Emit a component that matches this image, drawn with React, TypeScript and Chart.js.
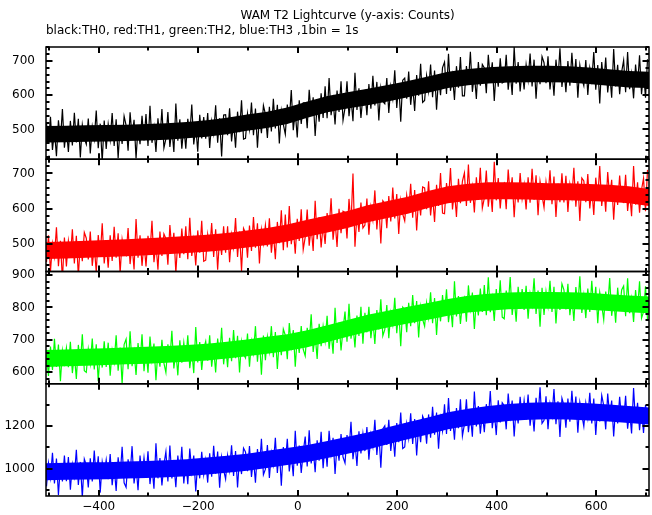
import React, { useEffect, useRef } from "react";
import { Chart, registerables } from "chart.js";

Chart.register(...registerables);

// lightcurve samples, 4 s apart (seconds relative to T0)
const BIN_START = -505;
const BIN_STEP = 4;
// dense core of each noise band, 40.4 s apart
const BAND_START = -506;
const BAND_STEP = 40.4;

const TH0_COUNTS = [
  518, 458, 537, 440, 497, 422, 527, 467, 560, 447,
  504, 434, 525, 453, 549, 462, 531, 418, 513, 474,
  457, 532, 430, 508, 472, 555, 445, 517, 405, 526,
  443, 515, 470, 548, 452, 530, 416, 510, 458, 539,
  512, 438, 550, 478, 528, 415, 508, 457, 540, 468,
  545, 452, 569, 461, 506, 434, 533, 470, 560, 446,
  473, 551, 449, 503, 434, 576, 467, 530, 444, 509,
  444, 531, 483, 573, 456, 510, 435, 543, 474, 536,
  473, 548, 446, 524, 488, 571, 461, 533, 421, 542,
  543, 483, 562, 465, 522, 447, 552, 492, 585, 472,
  474, 546, 501, 579, 483, 561, 447, 541, 489, 570,
  545, 475, 566, 494, 590, 503, 572, 459, 554, 515,
  486, 573, 525, 615, 498, 552, 477, 585, 516, 578,
  578, 504, 616, 544, 594, 481, 574, 523, 606, 534,
  626, 533, 650, 542, 587, 515, 614, 551, 641, 527,
  563, 641, 539, 593, 524, 666, 557, 620, 534, 599,
  612, 542, 633, 561, 657, 570, 639, 526, 621, 582,
  575, 650, 548, 626, 590, 673, 563, 635, 523, 644,
  650, 590, 669, 572, 629, 554, 659, 599, 692, 579,
  585, 657, 612, 690, 594, 672, 558, 652, 600, 681,
  697, 604, 721, 613, 658, 586, 685, 622, 712, 598,
  598, 685, 637, 727, 610, 664, 589, 697, 628, 690,
  680, 606, 718, 646, 696, 583, 676, 625, 708, 636,
  640, 718, 616, 670, 601, 741, 634, 697, 611, 676,
  617, 689, 644, 722, 626, 704, 590, 684, 632, 713,
  695, 635, 714, 617, 674, 599, 704, 644, 737, 624,
  679, 609, 700, 628, 724, 637, 706, 593, 688, 649,
  628, 703, 601, 679, 643, 726, 616, 688, 576, 697,
  632, 710, 608, 662, 593, 735, 626, 689, 603, 668,
  702, 609, 726, 618, 663, 591, 690, 627, 717, 603,
  667, 593, 705,
];

const TH1_COUNTS = [
  450, 525, 423, 501, 465, 548, 438, 510, 398, 519,
  437, 509, 464, 542, 446, 524, 410, 504, 452, 533,
  517, 457, 536, 439, 496, 421, 526, 466, 559, 446,
  504, 434, 525, 453, 549, 462, 531, 418, 513, 474,
  468, 546, 444, 498, 429, 571, 462, 525, 439, 504,
  437, 524, 476, 566, 449, 503, 428, 536, 467, 529,
  516, 442, 554, 482, 532, 419, 512, 461, 544, 472,
  551, 458, 575, 467, 512, 440, 539, 476, 566, 452,
  455, 527, 482, 560, 464, 542, 428, 522, 470, 551,
  476, 551, 449, 527, 491, 574, 464, 536, 424, 545,
  532, 462, 553, 481, 577, 490, 559, 446, 541, 502,
  554, 494, 573, 476, 533, 458, 563, 503, 596, 483,
  584, 491, 608, 500, 545, 473, 572, 509, 599, 485,
  520, 598, 496, 550, 481, 623, 514, 577, 491, 556,
  501, 588, 540, 630, 513, 567, 492, 600, 531, 593,
  590, 516, 628, 556, 700, 493, 586, 535, 618, 546,
  554, 629, 527, 605, 569, 652, 542, 614, 502, 623,
  615, 545, 636, 564, 660, 573, 642, 529, 624, 585,
  566, 638, 593, 671, 575, 653, 539, 633, 581, 662,
  659, 599, 678, 581, 638, 563, 668, 608, 701, 588,
  586, 673, 625, 715, 598, 652, 577, 685, 616, 678,
  701, 608, 725, 617, 662, 590, 689, 626, 716, 602,
  630, 708, 606, 660, 591, 733, 624, 687, 601, 666,
  673, 599, 711, 639, 689, 576, 669, 618, 701, 629,
  668, 598, 689, 617, 713, 626, 695, 582, 677, 638,
  604, 676, 631, 709, 613, 691, 577, 671, 619, 700,
  618, 693, 591, 669, 633, 716, 606, 678, 566, 687,
  679, 619, 698, 601, 658, 583, 688, 628, 721, 608,
  666, 592, 704, 632, 682, 569, 662, 611, 694, 622,
  618, 696, 594, 648, 579, 721, 612, 675, 589, 654,
  686, 593, 710,
];

const TH2_COUNTS = [
  658, 588, 679, 607, 703, 616, 685, 572, 667, 628,
  675, 615, 694, 597, 654, 579, 684, 624, 717, 604,
  599, 671, 626, 704, 608, 686, 572, 666, 614, 695,
  616, 691, 589, 667, 631, 714, 604, 676, 564, 685,
  702, 609, 726, 618, 663, 591, 690, 627, 717, 603,
  672, 598, 710, 638, 688, 575, 668, 617, 700, 628,
  599, 686, 638, 728, 611, 665, 590, 698, 629, 691,
  636, 714, 612, 666, 597, 739, 630, 693, 607, 672,
  695, 635, 714, 617, 674, 599, 704, 644, 737, 624,
  685, 615, 706, 634, 730, 643, 712, 599, 694, 655,
  644, 719, 617, 695, 659, 742, 632, 704, 592, 713,
  637, 709, 664, 742, 646, 724, 610, 704, 652, 733,
  714, 640, 752, 680, 730, 617, 710, 659, 742, 670,
  650, 737, 689, 779, 662, 716, 641, 749, 680, 742,
  696, 774, 672, 726, 657, 799, 690, 753, 667, 732,
  787, 694, 811, 703, 748, 676, 775, 712, 802, 688,
  783, 723, 802, 705, 762, 687, 792, 732, 825, 712,
  732, 807, 705, 783, 747, 830, 720, 792, 680, 801,
  793, 723, 814, 742, 838, 751, 820, 707, 802, 763,
  742, 814, 769, 847, 751, 829, 715, 809, 757, 838,
  778, 856, 754, 808, 739, 881, 772, 835, 749, 814,
  830, 756, 868, 796, 846, 733, 826, 775, 858, 786,
  869, 776, 893, 785, 830, 758, 857, 794, 884, 770,
  765, 852, 804, 894, 777, 831, 756, 864, 795, 857,
  792, 867, 765, 843, 807, 890, 780, 852, 740, 861,
  777, 849, 804, 882, 786, 864, 750, 844, 792, 873,
  854, 794, 873, 776, 833, 758, 863, 803, 896, 783,
  837, 767, 858, 786, 882, 795, 864, 751, 846, 807,
  762, 849, 801, 891, 774, 828, 753, 861, 792, 854,
  866, 773, 890, 782, 827, 755, 854, 791, 881, 767,
  787, 865, 763,
];

const TH3_COUNTS = [
  917, 1026, 958, 1075, 931, 1048, 877, 1018, 940, 1062,
  942, 1055, 901, 1019, 964, 1089, 924, 1032, 864, 1046,
  1017, 912, 1049, 940, 1085, 954, 1058, 888, 1031, 972,
  1041, 951, 1069, 923, 1009, 896, 1054, 964, 1103, 934,
  913, 1044, 971, 1106, 931, 1012, 899, 1062, 958, 1051,
  964, 1082, 928, 1010, 906, 1119, 955, 1050, 921, 1019,
  1080, 940, 1109, 954, 1022, 913, 1062, 967, 1103, 931,
  1038, 927, 1095, 987, 1062, 893, 1032, 955, 1080, 972,
  1040, 935, 1072, 963, 1108, 977, 1081, 911, 1054, 995,
  952, 1061, 993, 1110, 966, 1083, 912, 1053, 975, 1097,
  1079, 989, 1107, 961, 1047, 934, 1092, 1002, 1141, 972,
  998, 1111, 957, 1075, 1020, 1145, 980, 1088, 920, 1102,
  1023, 1141, 987, 1069, 965, 1178, 1014, 1109, 980, 1078,
  1151, 1011, 1180, 1025, 1093, 984, 1133, 1038, 1174, 1002,
  1121, 1010, 1178, 1070, 1145, 976, 1115, 1038, 1163, 1055,
  1027, 1158, 1085, 1220, 1045, 1126, 1013, 1176, 1072, 1165,
  1083, 1196, 1042, 1160, 1105, 1230, 1065, 1173, 1005, 1187,
  1202, 1112, 1230, 1084, 1170, 1057, 1215, 1125, 1264, 1095,
  1102, 1211, 1143, 1260, 1116, 1233, 1062, 1203, 1125, 1247,
  1223, 1118, 1255, 1146, 1291, 1160, 1264, 1094, 1237, 1178,
  1303, 1163, 1332, 1177, 1245, 1136, 1285, 1190, 1326, 1154,
  1208, 1326, 1172, 1254, 1150, 1363, 1199, 1294, 1165, 1263,
  1172, 1303, 1230, 1365, 1190, 1271, 1158, 1321, 1217, 1310,
  1296, 1185, 1353, 1245, 1320, 1151, 1290, 1213, 1338, 1230,
  1320, 1230, 1348, 1202, 1288, 1175, 1333, 1243, 1382, 1213,
  1227, 1340, 1186, 1304, 1249, 1374, 1209, 1317, 1149, 1331,
  1298, 1193, 1330, 1221, 1366, 1235, 1339, 1169, 1312, 1253,
  1199, 1308, 1240, 1357, 1213, 1330, 1159, 1300, 1222, 1344,
  1296, 1185, 1353, 1245, 1320, 1151, 1290, 1213, 1338, 1230,
  1224, 1342, 1188, 1270, 1166, 1379, 1215, 1310, 1181, 1279,
  1168, 1299, 1226,
];

// lower / upper edge of the solid core of each band
const TH0_CORE_LO = [462, 463, 464, 465, 466, 468, 470, 474, 479, 486, 496, 504, 516, 534, 550, 561, 571, 582, 594, 607, 621, 629, 634, 637, 638, 638, 637, 633, 628, 623, 621];
const TH0_CORE_HI = [510, 511, 512, 513, 514, 516, 518, 522, 527, 534, 544, 552, 564, 582, 598, 609, 619, 630, 642, 655, 669, 677, 682, 685, 686, 686, 685, 681, 676, 671, 669];
const TH1_CORE_LO = [458, 460, 462, 464, 466, 469, 472, 475, 479, 484, 491, 498, 508, 521, 533, 546, 562, 574, 586, 602, 616, 623, 627, 627, 626, 624, 624, 622, 620, 616, 608];
const TH1_CORE_HI = [506, 508, 510, 512, 514, 517, 520, 523, 527, 532, 539, 546, 556, 569, 581, 594, 610, 622, 634, 650, 664, 671, 675, 675, 674, 672, 672, 670, 668, 664, 656];
const TH2_CORE_LO = [616, 618, 620, 622, 624, 626, 629, 632, 636, 642, 649, 657, 665, 677, 693, 709, 725, 738, 750, 762, 774, 784, 790, 794, 796, 796, 795, 793, 789, 785, 782];
const TH2_CORE_HI = [668, 670, 672, 674, 676, 678, 681, 684, 688, 694, 701, 709, 717, 729, 745, 761, 777, 790, 802, 814, 826, 836, 842, 846, 848, 848, 847, 845, 841, 837, 834];
const TH3_CORE_LO = [946, 948, 950, 951, 954, 956, 960, 965, 973, 981, 990, 1004, 1017, 1032, 1050, 1070, 1090, 1115, 1138, 1161, 1185, 1202, 1214, 1224, 1230, 1232, 1231, 1227, 1222, 1215, 1208];
const TH3_CORE_HI = [1026, 1028, 1030, 1031, 1034, 1036, 1040, 1045, 1053, 1061, 1070, 1084, 1097, 1112, 1130, 1150, 1170, 1195, 1218, 1241, 1265, 1282, 1294, 1304, 1310, 1312, 1311, 1307, 1302, 1295, 1288];

const X_TICKS = [-400, -200, 0, 200, 400, 600];
const Y0_TICKS = [500, 600, 700];
const Y1_TICKS = [500, 600, 700];
const Y2_TICKS = [600, 700, 800, 900];
const Y3_TICKS = [1000, 1200];

const SERIES_NAMES = ["TH0", "TH1", "TH2", "TH3"];
const SERIES_COLORS = ["#000000", "#ff0000", "#00ff00", "#0000ff"];

const TITLE = "WAM T2 Lightcurve (y-axis: Counts)";
const SUBTITLE = "black:TH0, red:TH1, green:TH2, blue:TH3 ,1bin = 1s";

const PANELS = [
  { id: "y0", min: 413, max: 741, ticks: Y0_TICKS, minor: 20, major: 100, data: TH0_COUNTS, lo: TH0_CORE_LO, hi: TH0_CORE_HI },
  { id: "y1", min: 423, max: 740, ticks: Y1_TICKS, minor: 20, major: 100, data: TH1_COUNTS, lo: TH1_CORE_LO, hi: TH1_CORE_HI },
  { id: "y2", min: 564, max: 911, ticks: Y2_TICKS, minor: 20, major: 100, data: TH2_COUNTS, lo: TH2_CORE_LO, hi: TH2_CORE_HI },
  { id: "y3", min: 872, max: 1399, ticks: Y3_TICKS, minor: 100, major: 200, data: TH3_COUNTS, lo: TH3_CORE_LO, hi: TH3_CORE_HI },
];

const FONT = { family: "'DejaVu Sans', sans-serif", size: 12, weight: "normal" as const };

const fmt = (v: number) => String(v).replace("-", "\u2212");

const framePlugin = {
  id: "panelFrames",
  afterDatasetsDraw(chart: any) {
    const ctx = chart.ctx as CanvasRenderingContext2D;
    const xs = chart.scales.x;
    const left = xs.left;
    const right = xs.right;
    const seg = (x1: number, y1: number, x2: number, y2: number) => {
      ctx.beginPath();
      ctx.moveTo(x1, y1);
      ctx.lineTo(x2, y2);
      ctx.stroke();
    };
    ctx.save();
    ctx.strokeStyle = "#000";
    PANELS.forEach((p) => {
      const ys = chart.scales[p.id];
      const top = ys.top;
      const bottom = ys.bottom;
      ctx.lineWidth = 1.5;
      ctx.strokeRect(left, top, right - left, bottom - top);
      ctx.lineWidth = 2;
      for (let v = Math.ceil(xs.min / 100) * 100; v <= xs.max; v += 100) {
        const px = Math.round(xs.getPixelForValue(v));
        const len = v % 200 === 0 ? 6 : 3.5;
        seg(px, top, px, top + len);
        seg(px, bottom, px, bottom - len);
      }
      for (let v = Math.ceil(ys.min / p.minor) * p.minor; v <= ys.max; v += p.minor) {
        const py = Math.round(ys.getPixelForValue(v));
        const len = v % p.major === 0 ? 6.5 : 3.5;
        seg(left, py, left + len, py);
        seg(right, py, right - len, py);
      }
    });
    ctx.restore();
  },
};

export default function App() {
  const ref = useRef<HTMLCanvasElement | null>(null);

  useEffect(() => {
    if (!ref.current) return;
    const datasets: any[] = [];
    PANELS.forEach((p, i) => {
      const color = SERIES_COLORS[i];
      datasets.push({
        label: SERIES_NAMES[i] + " core low",
        data: p.lo.map((c, k) => ({ x: BAND_START + k * BAND_STEP, y: c })),
        yAxisID: p.id,
        borderColor: color,
        borderWidth: 0,
        pointRadius: 0,
        tension: 0,
        fill: false,
        order: 1,
      });
      datasets.push({
        label: SERIES_NAMES[i] + " core high",
        data: p.hi.map((c, k) => ({ x: BAND_START + k * BAND_STEP, y: c })),
        yAxisID: p.id,
        borderColor: color,
        backgroundColor: color,
        borderWidth: 0,
        pointRadius: 0,
        tension: 0,
        fill: "-1",
        order: 1,
      });
      datasets.push({
        label: SERIES_NAMES[i],
        data: p.data.map((c, k) => ({ x: BIN_START + k * BIN_STEP, y: c })),
        yAxisID: p.id,
        borderColor: color,
        backgroundColor: color,
        borderWidth: 1.2,
        pointRadius: 0,
        tension: 0,
        fill: false,
        order: 0,
      });
    });

    const scales: any = {
      x: {
        type: "linear",
        min: -506,
        max: 706,
        afterBuildTicks: (s: any) => {
          s.ticks = X_TICKS.map((v) => ({ value: v }));
        },
        afterFit: (s: any) => {
          s.height = 19;
        },
        grid: { display: false, drawTicks: false },
        border: { display: false },
        ticks: {
          color: "#000",
          font: FONT,
          padding: 4,
          maxRotation: 0,
          autoSkip: false,
          callback: (v: any) => fmt(Number(v)),
        },
      },
    };
    PANELS.forEach((p, i) => {
      scales[p.id] = {
        type: "linear",
        position: "left",
        stack: "panels",
        stackWeight: 1,
        weight: PANELS.length - i,
        min: p.min,
        max: p.max,
        afterBuildTicks: (s: any) => {
          s.ticks = p.ticks.map((v) => ({ value: v }));
        },
        afterFit: (s: any) => {
          s.width = 46;
        },
        grid: { display: false, drawTicks: false },
        border: { display: false },
        ticks: {
          color: "#000",
          font: FONT,
          padding: 11,
          autoSkip: false,
          callback: (v: any) => fmt(Number(v)),
        },
      };
    });

    const chart = new Chart(ref.current, {
      type: "line",
      data: { datasets },
      options: {
        animation: false,
        responsive: true,
        maintainAspectRatio: false,
        layout: { padding: { left: 0, right: 3, top: 0, bottom: 0 } },
        scales,
        plugins: {
          legend: { display: false },
          tooltip: { enabled: false },
          title: {
            display: true,
            text: TITLE,
            color: "#000",
            font: FONT,
            fullSize: false,
            align: "center",
            padding: { top: 9, bottom: 0 },
          },
          subtitle: {
            display: true,
            text: SUBTITLE,
            color: "#000",
            font: FONT,
            fullSize: false,
            align: "start",
            padding: { top: 0, bottom: 9.2 },
          },
        },
      } as any,
      plugins: [framePlugin],
    });
    return () => chart.destroy();
  }, []);

  return (
    <div style={{ position: "fixed", left: 0, top: 0, width: 652, height: 515, background: "#fff" }}>
      <canvas ref={ref} />
    </div>
  );
}
